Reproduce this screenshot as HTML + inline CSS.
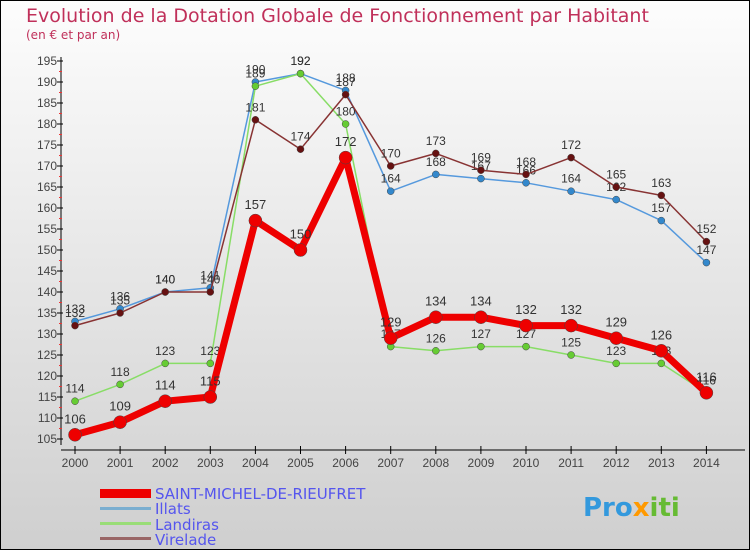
<!DOCTYPE html>
<html><head><meta charset="utf-8"><style>
html,body{margin:0;padding:0}
body{width:750px;height:550px;overflow:hidden;font-family:"DejaVu Sans","Liberation Sans",sans-serif}
</style></head><body>
<svg width="750" height="550" xmlns="http://www.w3.org/2000/svg">
<defs><linearGradient id="bg" x1="0" y1="0" x2="0" y2="1"><stop offset="0" stop-color="#fdfdfd"/><stop offset="1" stop-color="#cfcfcf"/></linearGradient></defs>
<rect x="0.5" y="0.5" width="749" height="549" fill="url(#bg)" stroke="#000"/>
<text x="26" y="22" font-size="19" fill="#c0305a">Evolution de la Dotation Globale de Fonctionnement par Habitant</text>
<text x="26" y="39" font-size="12" fill="#c0305a">(en € et par an)</text>
<g id="axes"></g><g id="series"></g>
<g>
<rect x="100" y="489" width="51" height="9" fill="#e00"/>
<text x="155" y="499" font-size="15" fill="#5555ee">SAINT-MICHEL-DE-RIEUFRET</text>
<rect x="100" y="507" width="51" height="3" fill="#7aaed0"/>
<text x="155" y="514" font-size="15" fill="#5555ee">Illats</text>
<rect x="100" y="522" width="51" height="3" fill="#99dd77"/>
<text x="155" y="530" font-size="15" fill="#5555ee">Landiras</text>
<rect x="100" y="537" width="51" height="3" fill="#996666"/>
<text x="155" y="545" font-size="15" fill="#5555ee">Virelade</text>
</g>
<g><text x="583" y="516" font-size="26" font-weight="bold" fill="#3399dd">Pro<tspan fill="#ff9900">x</tspan><tspan fill="#66bb33">iti</tspan></text></g>
</svg>
<script>
const years=[2000,2001,2002,2003,2004,2005,2006,2007,2008,2009,2010,2011,2012,2013,2014];
const smr=[106,109,114,115,157,150,172,129,134,134,132,132,129,126,116];
const illats=[133,136,140,141,190,192,188,164,168,167,166,164,162,157,147];
const landiras=[114,118,123,123,189,192,180,127,126,127,127,125,123,123,116];
const virelade=[132,135,140,140,181,174,187,170,173,169,168,172,165,163,152];
const yTicks=[105,110,115,120,125,130,135,140,145,150,155,160,165,170,175,180,185,190,195];
const NS='http://www.w3.org/2000/svg';
const X=i=>75+i*45.1;
const Y=v=>61+(195-v)*4.2;
function mk(t,a,p){const e=document.createElementNS(NS,t);for(const k in a)e.setAttribute(k,a[k]);p.appendChild(e);return e;}
const ax=document.getElementById('axes');
const yl=mk('line',{x1:61,y1:57,x2:61,y2:445,stroke:'#000'},ax);


const xl=mk('line',{x1:61,y1:450,x2:745,y2:450,stroke:'#000'},ax);


yTicks.forEach(v=>{
 mk('line',{x1:57,y1:Y(v),x2:63,y2:Y(v),stroke:'#000'},ax);
 if(v<195) mk('line',{x1:59,y1:Y(v+2.5),x2:62,y2:Y(v+2.5),stroke:'#e33'},ax);
 const t=mk('text',{x:57,y:Y(v)+4,'font-size':12,'text-anchor':'end',fill:'#444','font-family':'Liberation Sans, sans-serif'},ax);t.textContent=v;
 
 
});
years.forEach((y,i)=>{
 mk('line',{x1:X(i),y1:446,x2:X(i),y2:454,stroke:'#000'},ax);
 const t=mk('text',{x:X(i),y:467,'font-size':12,'text-anchor':'middle',fill:'#444','font-family':'Liberation Sans, sans-serif'},ax);t.textContent=y;
 
 
});
const sg=document.getElementById('series');
function draw(name,data,color,dot,w,r,fs){
 const g=mk('g',{},sg);
 
 
 mk('polyline',{points:data.map((v,i)=>X(i)+','+Y(v)).join(' '),fill:'none',stroke:color,'stroke-width':w,'stroke-linejoin':'round'},g);
 data.forEach((v,i)=>{
  const c=mk('circle',{cx:X(i),cy:Y(v),r:r,fill:dot,stroke:'#444','stroke-width':0.5},g);
  
  
  const t=mk('text',{x:X(i),y:Y(v)-(r+5),'font-size':fs,'text-anchor':'middle',fill:'#333','font-family':'Liberation Sans, sans-serif'},g);t.textContent=v;
  
  
 });
}
draw('illats',illats,'#5599dd','#3388cc',1.5,3.5,12);
draw('landiras',landiras,'#88dd66','#66cc33',1.5,3.5,12);
draw('virelade',virelade,'#883333','#661111',1.5,3.5,12);
draw('saint-michel',smr,'#ee0000','#ee0000',7,6.5,13);
</script>
</body></html>
